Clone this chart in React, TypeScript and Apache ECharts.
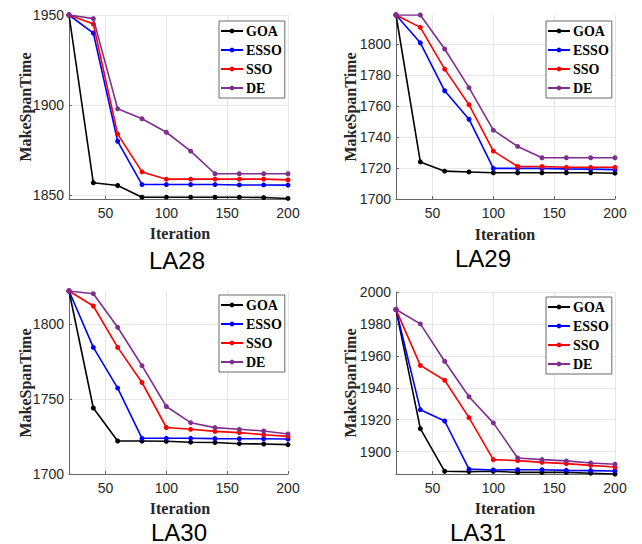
import React, { useEffect, useRef } from "react";
import * as echarts from "echarts";

const iterations = [20, 40, 60, 80, 100, 120, 140, 160, 180, 200];
const algorithms = ["GOA", "ESSO", "SSO", "DE"];
const colors = ["#000000", "#0000ff", "#ff0000", "#7e2f8e"];
const panelTitles = ["LA28", "LA29", "LA30", "LA31"];
const xTicks = [50, 100, 150, 200];

// LA28
const la28GOA = [1950, 1857, 1855.5, 1849, 1849, 1849, 1849, 1849, 1848.8, 1848.3];
const la28ESSO = [1950, 1940, 1880, 1856, 1856, 1856, 1856, 1855.8, 1855.8, 1855.7];
const la28SSO = [1950, 1945, 1884, 1863, 1859, 1859, 1859, 1859, 1859, 1858.6];
const la28DE = [1950, 1948, 1898, 1892.5, 1885, 1874.5, 1862, 1862, 1862, 1862];
// LA29
const la29GOA = [1819, 1724, 1718, 1717.5, 1717, 1717, 1717, 1717, 1717, 1716.7];
const la29ESSO = [1819, 1801, 1770, 1751.6, 1719.8, 1719.8, 1719.8, 1719.5, 1719.3, 1719];
const la29SSO = [1819, 1811, 1784, 1761, 1731, 1721, 1721, 1720.5, 1720.5, 1720.5];
const la29DE = [1819, 1819, 1797, 1772, 1744.5, 1734, 1726.7, 1726.7, 1726.7, 1726.7];
// LA30
const la30GOA = [1822, 1744, 1722, 1722, 1721.8, 1721.2, 1721, 1720.2, 1720, 1719.6];
const la30ESSO = [1822, 1784.4, 1757.3, 1723.8, 1723.8, 1723.8, 1723.6, 1723.5, 1723.5, 1723.3];
const la30SSO = [1822, 1812, 1784.4, 1761, 1731, 1729.8, 1728.4, 1727.6, 1726.2, 1725.1];
const la30DE = [1822, 1820.2, 1797.8, 1772.2, 1745, 1734.2, 1730.9, 1729.8, 1728.7, 1726.7];
// LA31
const la31GOA = [1989, 1914.4, 1887.7, 1887.5, 1887.7, 1887, 1887, 1887, 1886.5, 1886];
const la31ESSO = [1989, 1926.3, 1919.2, 1889.1, 1888.5, 1888.7, 1888.7, 1888.3, 1888.1, 1887.9];
const la31SSO = [1989, 1954, 1944.7, 1921.3, 1895, 1894.4, 1893.3, 1892.5, 1891.4, 1890.4];
const la31DE = [1989, 1980, 1956.6, 1934.4, 1918, 1896, 1895, 1894.2, 1892.9, 1892.1];

const panelSeries = [
  [la28GOA, la28ESSO, la28SSO, la28DE],
  [la29GOA, la29ESSO, la29SSO, la29DE],
  [la30GOA, la30ESSO, la30SSO, la30DE],
  [la31GOA, la31ESSO, la31SSO, la31DE],
];

const yMins = [1848, 1700, 1700, 1886];
const yMaxs = [1950, 1819, 1822, 2000];
const yTicks = [
  [1850, 1900, 1950],
  [1700, 1720, 1740, 1760, 1780, 1800],
  [1700, 1750, 1800],
  [1900, 1920, 1940, 1960, 1980, 2000],
];

const grids = [
  { left: 69, top: 15, width: 219, height: 184 },
  { left: 396, top: 15, width: 219, height: 184 },
  { left: 69, top: 291, width: 219, height: 183 },
  { left: 396, top: 292, width: 219, height: 182 },
];
const legendPos = [
  { left: 219, top: 21 },
  { left: 546, top: 21 },
  { left: 219, top: 295 },
  { left: 546, top: 297 },
];
const titlePos = [
  [177, 260],
  [483, 258],
  [179, 532],
  [478, 532],
];
const xNamePos = [
  [180, 233],
  [505, 234],
  [180, 508],
  [505, 508],
];
const yNamePos = [
  [25, 107],
  [350, 107],
  [25, 383],
  [350, 383],
];

const AXIS_COLOR = "#666666";
const GRID_COLOR = "#e6e6e6";
const SANS = "'Liberation Sans', Arial, sans-serif";
const SERIF = "'Liberation Serif', 'Times New Roman', serif";

export default function App() {
  const ref = useRef<HTMLDivElement>(null);
  useEffect(() => {
    if (!ref.current) return;
    const chart = echarts.init(ref.current, undefined, { renderer: "svg" });

    const xAxis = grids.map((_, p) => ({
      type: "value",
      gridIndex: p,
      min: 20,
      max: 200,
      axisLine: { show: true, lineStyle: { color: AXIS_COLOR, width: 1 } },
      axisTick: { show: true, inside: true, length: 3, customValues: xTicks, lineStyle: { color: AXIS_COLOR } },
      axisLabel: {
        customValues: xTicks,
        formatter: (v: number) => String(v),
        fontFamily: SANS,
        fontSize: 14,
        color: "#262626",
        margin: 7,
      },
      splitLine: { show: true, lineStyle: { color: GRID_COLOR, width: 1 } },
    }));
    const yAxis = grids.map((_, p) => ({
      type: "value",
      gridIndex: p,
      min: yMins[p],
      max: yMaxs[p],
      axisLine: { show: true, lineStyle: { color: AXIS_COLOR, width: 1 } },
      axisTick: { show: true, inside: true, length: 3, customValues: yTicks[p], lineStyle: { color: AXIS_COLOR } },
      axisLabel: {
        customValues: yTicks[p],
        formatter: (v: number) => String(v),
        fontFamily: SANS,
        fontSize: 14,
        color: "#262626",
        margin: 5,
      },
      splitLine: { show: true, lineStyle: { color: GRID_COLOR, width: 1 } },
    }));

    const series: any[] = [];
    panelSeries.forEach((list, p) => {
      list.forEach((vals, a) => {
        series.push({
          type: "line",
          name: algorithms[a],
          xAxisIndex: p,
          yAxisIndex: p,
          data: iterations.map((x, i) => [x, vals[i]]),
          symbol: "circle",
          symbolSize: 5,
          showSymbol: true,
          lineStyle: { color: colors[a], width: 1.6 },
          itemStyle: { color: colors[a] },
          z: 3 + a,
        });
      });
    });

    const legend = legendPos.map((pos) => ({
      ...pos,
      orient: "vertical",
      data: algorithms,
      backgroundColor: "#ffffff",
      borderColor: "#444444",
      borderWidth: 0.8,
      padding: [3, 3, 3, 1],
      itemWidth: 22,
      itemHeight: 6,
      itemGap: 5,
      selectedMode: false,
      textStyle: { fontFamily: SERIF, fontWeight: "bold", fontSize: 14, color: "#000", padding: [0, 0, 0, -2] },
    }));

    const graphic: any[] = [];
    panelTitles.forEach((t, p) => {
      graphic.push({
        type: "text",
        x: titlePos[p][0],
        y: titlePos[p][1],
        style: { text: t, fontFamily: SANS, fontSize: 24, fill: "#000", align: "center", verticalAlign: "middle" },
      });
      graphic.push({
        type: "text",
        x: xNamePos[p][0],
        y: xNamePos[p][1],
        style: { text: "Iteration", fontFamily: SERIF, fontWeight: "bold", fontSize: 16, fill: "#262626", align: "center", verticalAlign: "middle" },
      });
      graphic.push({
        type: "text",
        x: yNamePos[p][0],
        y: yNamePos[p][1],
        rotation: Math.PI / 2,
        style: { text: "MakeSpanTime", fontFamily: SERIF, fontWeight: "bold", fontSize: 16, fill: "#262626", align: "center", verticalAlign: "middle" },
      });
    });

    chart.setOption({
      animation: false,
      backgroundColor: "#ffffff",
      grid: grids,
      xAxis,
      yAxis,
      legend,
      series,
      graphic,
    });
    return () => chart.dispose();
  }, []);
  return <div ref={ref} style={{ position: "fixed", left: 0, top: 0, width: 642, height: 544 }} />;
}
